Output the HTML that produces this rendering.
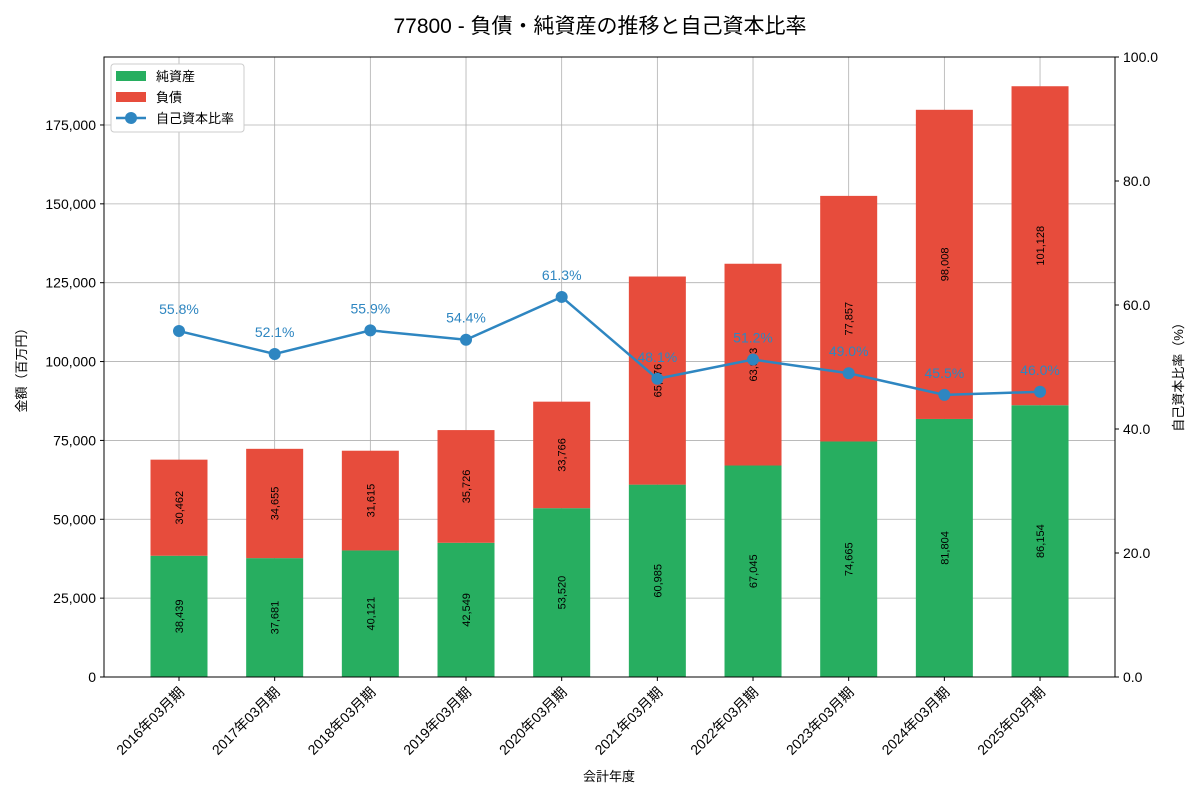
<!DOCTYPE html>
<html><head><meta charset="utf-8"><style>
body{margin:0;background:#fff}
text{font-family:"Liberation Sans","Noto Sans CJK JP",sans-serif}
</style></head><body>
<svg id="c" width="1200" height="800" xmlns="http://www.w3.org/2000/svg"></svg>
<script>
const categories=["2016年03月期","2017年03月期","2018年03月期","2019年03月期","2020年03月期","2021年03月期","2022年03月期","2023年03月期","2024年03月期","2025年03月期"];
const netAssets=[38439,37681,40121,42549,53520,60985,67045,74665,81804,86154];
const liabilities=[30462,34655,31615,35726,33766,65976,63963,77857,98008,101128];
const equityRatio=[55.8,52.1,55.9,54.4,61.3,48.1,51.2,49.0,45.5,46.0];
const leftTicks=[0,25000,50000,75000,100000,125000,150000,175000];
const rightTicks=[0,20,40,60,80,100];

const svg=document.getElementById('c');const NS='http://www.w3.org/2000/svg';
function el(t,a,p){const e=document.createElementNS(NS,t);for(const k in a)e.setAttribute(k,a[k]);(p||svg).appendChild(e);return e;}
const L=104,R=1115,T=57,B=677;
const yL=v=>B-v/196550*(B-T);
const yR=v=>B-v/100*(B-T);
const xC=i=>179+i*95.67;
const bw=57;
const fmt=v=>v.toLocaleString('en-US');

let t=el('text',{x:600,y:33,'text-anchor':'middle','font-size':21,fill:'#000'});t.textContent='77800 - 負債・純資産の推移と自己資本比率';


// grid
leftTicks.forEach(v=>{const l=el('line',{x1:L,x2:R,y1:yL(v),y2:yL(v),stroke:'#b0b0b0','stroke-width':0.8});
});
categories.forEach((c,i)=>{const l=el('line',{x1:xC(i),x2:xC(i),y1:T,y2:B,stroke:'#b0b0b0','stroke-width':0.8});
});

// bars
categories.forEach((c,i)=>{
  const y0=yL(0),y1=yL(netAssets[i]),y2=yL(netAssets[i]+liabilities[i]);
  const g=el('rect',{x:xC(i)-bw/2,y:y1,width:bw,height:y0-y1,fill:'#27ae60'});
  
  const r=el('rect',{x:xC(i)-bw/2,y:y2,width:bw,height:y1-y2,fill:'#e74c3c'});
  
  [[netAssets[i],(y0+y1)/2],[liabilities[i],(y1+y2)/2]].forEach(([v,cy])=>{
    const tx=el('text',{x:0,y:0,'text-anchor':'middle','font-size':11,fill:'#000',transform:`translate(${xC(i)+4},${cy}) rotate(-90)`});
    tx.textContent=fmt(v);
  });
});

// line
const pts=equityRatio.map((v,i)=>xC(i)+','+yR(v)).join(' ');
const pl=el('polyline',{points:pts,fill:'none',stroke:'#2e86c1','stroke-width':2.5});

equityRatio.forEach((v,i)=>{
  const c=el('circle',{cx:xC(i),cy:yR(v),r:6,fill:'#2e86c1'});
  
  const tx=el('text',{x:xC(i),y:yR(v)-17,'text-anchor':'middle','font-size':14,fill:'#2e86c1'});
  tx.textContent=v.toFixed(1)+'%';
});

// frame
const f=el('rect',{x:L,y:T,width:R-L,height:B-T,fill:'none',stroke:'#000','stroke-width':1});


// left ticks
leftTicks.forEach(v=>{el('line',{x1:L-4,x2:L,y1:yL(v),y2:yL(v),stroke:'#000'});
  const tx=el('text',{x:L-8,y:yL(v)+5,'text-anchor':'end','font-size':14});tx.textContent=fmt(v);
  });
rightTicks.forEach(v=>{el('line',{x1:R,x2:R+4,y1:yR(v),y2:yR(v),stroke:'#000'});
  const tx=el('text',{x:R+8,y:yR(v)+5,'font-size':14});tx.textContent=v.toFixed(1);
  });
categories.forEach((c,i)=>{el('line',{x1:xC(i),x2:xC(i),y1:B,y2:B+4,stroke:'#000'});
  const tx=el('text',{x:0,y:0,'text-anchor':'end','font-size':14,transform:`translate(${xC(i)+6},${B+16}) rotate(-45)`});
  tx.textContent=c;});

t=el('text',{x:0,y:0,'text-anchor':'middle','font-size':13,transform:'translate(26,367) rotate(-90)'});t.textContent='金額（百万円）';

t=el('text',{x:0,y:0,'text-anchor':'middle','font-size':13,transform:'translate(1183,374) rotate(-90)'});t.textContent='自己資本比率（%）';

t=el('text',{x:609,y:781,'text-anchor':'middle','font-size':13});t.textContent='会計年度';


// legend
const lg=el('g',{});
el('rect',{x:111,y:64,width:133,height:68,fill:'#fff',stroke:'#ccc',rx:3},lg);
el('rect',{x:116,y:71,width:30,height:10,fill:'#27ae60'},lg);
el('rect',{x:116,y:92,width:30,height:10,fill:'#e74c3c'},lg);
el('line',{x1:116,x2:146,y1:118,y2:118,stroke:'#2e86c1','stroke-width':2.5},lg);
el('circle',{cx:131,cy:118,r:6,fill:'#2e86c1'},lg);
[['純資産',81],['負債',102],['自己資本比率',123]].forEach(([s,y])=>{const tx=el('text',{x:156,y:y,'font-size':13},lg);tx.textContent=s;
  });
</script>
</body></html>
